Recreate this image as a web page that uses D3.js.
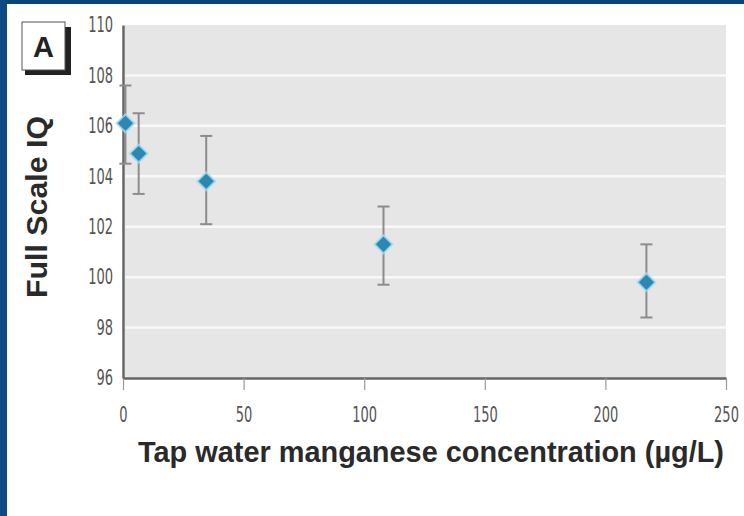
<!DOCTYPE html>
<html>
<head>
<meta charset="utf-8">
<script src="https://cdn.jsdelivr.net/npm/d3@7"></script>
<style>
  body { margin: 0; background: #fff; }
  svg { display: block; }
</style>
</head>
<body>
<svg id="chart"></svg>
<script>
// === Data ===
const manganese = [1, 6.5, 34.5, 108, 217];
const iqMean = [106.1, 104.9, 103.8, 101.3, 99.8];
const iqLower = [104.5, 103.3, 102.1, 99.7, 98.4];
const iqUpper = [107.6, 106.5, 105.6, 102.8, 101.3];
const xTicks = [0, 50, 100, 150, 200, 250];
const yTicks = [96, 98, 100, 102, 104, 106, 108, 110];
const gridValues = [98, 100, 102, 104, 106, 108];

const data = manganese.map((m, i) => ({ x: m, y: iqMean[i], lo: iqLower[i], hi: iqUpper[i] }));

const svg = d3.select("#chart").attr("width", 744).attr("height", 516);
const margin = { top: 25, right: 18, bottom: 138, left: 123 };
const width = 744 - margin.left - margin.right;
const height = 516 - margin.top - margin.bottom;

// blue slide frame
svg.append("rect").attr("width", 744).attr("height", 516).attr("fill", "#fff");
svg.append("rect").attr("width", 744).attr("height", 4).attr("fill", "#0b4479");
svg.append("rect").attr("width", 7).attr("height", 516).attr("fill", "#0d4a84");

const g = svg.append("g").attr("transform", `translate(${margin.left},${margin.top})`);

const x = d3.scaleLinear().domain([0, 250]).range([0, width]);
const y = d3.scaleLinear().domain([96, 110]).range([height, 0]);

// plot background + white gridlines
g.append("rect").attr("x", 2).attr("y", 0).attr("width", width - 2).attr("height", height)
  .attr("fill", "#e6e6e6");
g.selectAll(".grid").data(gridValues).enter().append("line")
  .attr("x1", 2).attr("x2", width)
  .attr("y1", d => y(d)).attr("y2", d => y(d))
  .attr("stroke", "#f8f8f8").attr("stroke-width", 2.5);

// axes
const squeeze = 0.62; // condensed look for tick labels
const xAxis = g.append("g").attr("transform", `translate(0,${height})`)
  .call(d3.axisBottom(x).tickValues(xTicks).tickSize(12).tickSizeOuter(0).tickPadding(17));
const yAxis = g.append("g")
  .call(d3.axisLeft(y).tickValues(yTicks).tickSize(0).tickPadding(10));

[xAxis, yAxis].forEach(a => {
  a.select(".domain").attr("stroke", "#666").attr("stroke-width", 2.5);
  a.selectAll(".tick text")
    .style("font-family", "'DejaVu Sans', sans-serif")
    .style("font-size", "21px").attr("fill", "#555")
    .attr("transform", `scale(${squeeze},1)`);
});
yAxis.selectAll(".tick text").attr("x", -10 / squeeze);
xAxis.selectAll(".tick line").attr("stroke", "#999").attr("stroke-width", 1.2);

// error bars
const bars = g.selectAll(".err").data(data).enter().append("g").attr("class", "err")
  .attr("stroke", "#8c8c8c").attr("stroke-width", 2);
bars.append("line").attr("x1", d => x(d.x)).attr("x2", d => x(d.x))
  .attr("y1", d => y(d.lo)).attr("y2", d => y(d.hi));
bars.append("line").attr("x1", d => x(d.x) - 6).attr("x2", d => x(d.x) + 6)
  .attr("y1", d => y(d.hi)).attr("y2", d => y(d.hi));
bars.append("line").attr("x1", d => x(d.x) - 6).attr("x2", d => x(d.x) + 6)
  .attr("y1", d => y(d.lo)).attr("y2", d => y(d.lo));

// diamond markers
const diamond = d3.symbol().type(d3.symbolSquare).size(160);
g.selectAll(".pt").data(data).enter().append("path")
  .attr("d", diamond)
  .attr("transform", d => `translate(${x(d.x)},${y(d.y)}) rotate(45)`)
  .attr("fill", "#2b88b2")
  .attr("stroke", "#a8dcef").attr("stroke-width", 2).attr("stroke-opacity", 0.8);

// axis titles
svg.append("text")
  .attr("x", 138).attr("y", 462)
  .attr("textLength", 586).attr("lengthAdjust", "spacingAndGlyphs")
  .style("font-family", "'Liberation Sans', sans-serif")
  .style("font-weight", "bold").style("font-size", "29px").attr("fill", "#2a2a2a")
  .text("Tap water manganese concentration (µg/L)");

svg.append("text")
  .attr("transform", "translate(47,207) rotate(-90)")
  .attr("text-anchor", "middle")
  .attr("textLength", 182).attr("lengthAdjust", "spacingAndGlyphs")
  .style("font-family", "'Liberation Sans', sans-serif")
  .style("font-weight", "bold").style("font-size", "30px").attr("fill", "#2a2a2a")
  .text("Full Scale IQ");

// panel label "A"
const panel = svg.append("g");
panel.append("rect").attr("x", 25).attr("y", 27).attr("width", 46).attr("height", 48).attr("fill", "#222");
panel.append("rect").attr("x", 22).attr("y", 22).attr("width", 43).attr("height", 48)
  .attr("fill", "#fff").attr("stroke", "#555").attr("stroke-width", 1);
panel.append("text").attr("x", 43.5).attr("y", 57).attr("text-anchor", "middle")
  .style("font-family", "'Liberation Sans', Arial, sans-serif")
  .style("font-weight", "bold").style("font-size", "29px").attr("fill", "#222")
  .text("A");
</script>
</body>
</html>
